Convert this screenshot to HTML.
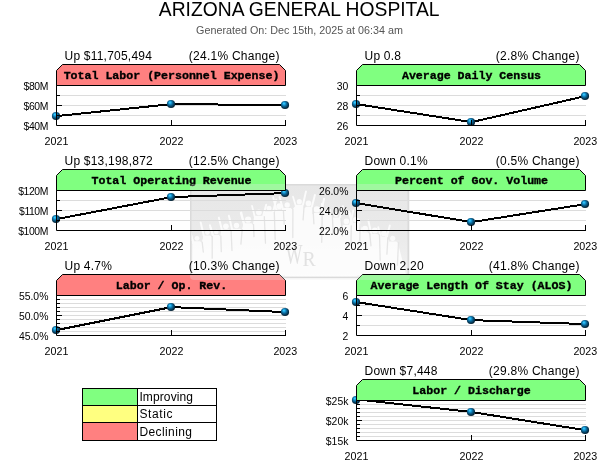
<!DOCTYPE html>
<html><head><meta charset="utf-8"><title>ARIZONA GENERAL HOSPITAL</title>
<style>
html,body{margin:0;padding:0;background:#fff;}
svg{display:block}
text{font-family:"Liberation Sans",Arial,sans-serif;fill:#000}
.t{font-size:19.3px;text-anchor:middle}
.s{font-size:10.75px;text-anchor:middle;fill:#555}
.l{font-size:12px;letter-spacing:0.22px}
.r{font-size:12px;text-anchor:end;letter-spacing:0.25px}
.h{font-family:"Liberation Mono","Courier New",monospace;font-weight:bold;font-size:11.6px;text-anchor:middle;stroke:#000;stroke-width:0.35px}
.y{font-size:10.4px;text-anchor:end}
.x{font-size:10.7px;text-anchor:middle}
.g{font-size:12px}
</style></head><body>
<svg width="600" height="465" viewBox="0 0 600 465">
<defs>
<radialGradient id="ball" cx="0.44" cy="0.42" r="0.62" fx="0.36" fy="0.3">
<stop offset="0" stop-color="#48dcff"/><stop offset="0.12" stop-color="#2cc0f4"/><stop offset="0.3" stop-color="#1792d0"/><stop offset="0.5" stop-color="#0b6492"/><stop offset="0.78" stop-color="#053450"/><stop offset="1" stop-color="#01141f"/>
</radialGradient>
</defs>
<rect width="600" height="465" fill="#fff"/>
<g id="wm"><defs><linearGradient id="wg" x1="0" y1="0" x2="0" y2="1"><stop offset="0" stop-color="#e7e7e7"/><stop offset="0.6" stop-color="#ebebeb"/><stop offset="1" stop-color="#f2f2f2"/></linearGradient><filter id="wb" x="-5%" y="-5%" width="110%" height="110%"><feGaussianBlur stdDeviation="0.45"/></filter><clipPath id="wc"><rect x="191.5" y="185.5" width="216" height="91" rx="3"/></clipPath><clipPath id="hc"><rect x="57" y="170" width="228" height="20"/><rect x="357" y="170" width="228" height="20"/><rect x="57" y="275" width="228" height="20"/><rect x="357" y="275" width="228" height="20"/></clipPath></defs>
<rect x="190" y="184" width="220" height="95.5" rx="5" fill="#f5f5f5"/><rect x="190.75" y="184.75" width="217.5" height="92.5" rx="4" fill="url(#wg)" stroke="#dadada" stroke-width="1.5"/>
<g clip-path="url(#wc)" fill="#fff" stroke="#fff" stroke-linecap="round" opacity="0.8" filter="url(#wb)">
<circle cx="197.0" cy="238.3" r="2.4" stroke="none"/>
<path d="M193.4 243.2L189.9 231.0" stroke-width="2" fill="none"/>
<path d="M193.4 243.2L190.4 232.3" stroke-width="1.8" fill="none"/>
<circle cx="207.4" cy="232.5" r="2.4" stroke="none"/>
<path d="M204.2 237.4L200.7 222.4" stroke-width="2" fill="none"/>
<circle cx="216.3" cy="232.0" r="2.3" stroke="none"/>
<path d="M213.4 236.9L209.9 225.2" stroke-width="2" fill="none"/>
<path d="M213.4 236.9L210.4 227.3" stroke-width="1.8" fill="none"/>
<circle cx="225.9" cy="226.2" r="2.8" stroke="none"/>
<path d="M222.3 231.6L218.8 217.6" stroke-width="2" fill="none"/>
<circle cx="236.5" cy="225.5" r="2.7" stroke="none"/>
<path d="M232.4 230.7L228.9 215.8" stroke-width="2" fill="none"/>
<circle cx="248.1" cy="219.7" r="3.1" stroke="none"/>
<path d="M244.3 225.3L240.8 213.0" stroke-width="2" fill="none"/>
<path d="M244.3 225.3L241.3 212.3" stroke-width="1.8" fill="none"/>
<circle cx="258.9" cy="212.3" r="2.9" stroke="none"/>
<path d="M262.7 217.7L266.2 204.7" stroke-width="2" fill="none"/>
<path d="M255.0 217.7L252.0 205.9" stroke-width="1.8" fill="none"/>
<circle cx="269.0" cy="208.2" r="2.5" stroke="none"/>
<path d="M272.7 213.3L276.2 199.4" stroke-width="2" fill="none"/>
<circle cx="279.3" cy="206.2" r="2.9" stroke="none"/>
<path d="M276.7 211.6L273.2 197.3" stroke-width="2" fill="none"/>
<circle cx="287.2" cy="204.9" r="2.7" stroke="none"/>
<path d="M283.1 210.1L279.6 197.0" stroke-width="2" fill="none"/>
<circle cx="299.3" cy="201.7" r="2.6" stroke="none"/>
<path d="M302.5 206.8L306.0 191.4" stroke-width="2" fill="none"/>
<path d="M296.0 206.8L293.0 196.7" stroke-width="1.8" fill="none"/>
<circle cx="308.5" cy="203.4" r="2.8" stroke="none"/>
<path d="M311.4 208.8L314.9 194.9" stroke-width="2" fill="none"/>
<circle cx="316.9" cy="209.4" r="3.2" stroke="none"/>
<path d="M320.6 215.0L324.1 198.7" stroke-width="2" fill="none"/>
<circle cx="328.0" cy="210.5" r="2.7" stroke="none"/>
<path d="M325.3 215.7L321.8 203.9" stroke-width="2" fill="none"/>
<circle cx="335.9" cy="214.7" r="2.4" stroke="none"/>
<path d="M339.4 219.5L342.9 206.2" stroke-width="2" fill="none"/>
<path d="M332.4 219.5L329.4 209.6" stroke-width="1.8" fill="none"/>
<circle cx="346.4" cy="221.4" r="2.8" stroke="none"/>
<path d="M349.7 226.8L353.2 210.6" stroke-width="2" fill="none"/>
<circle cx="355.5" cy="219.7" r="2.6" stroke="none"/>
<path d="M352.5 224.8L349.0 211.5" stroke-width="2" fill="none"/>
<path d="M352.5 224.8L349.5 212.3" stroke-width="1.8" fill="none"/>
<circle cx="365.0" cy="228.8" r="3.0" stroke="none"/>
<path d="M362.0 234.3L358.5 219.3" stroke-width="2" fill="none"/>
<path d="M362.0 234.3L359.0 222.7" stroke-width="1.8" fill="none"/>
<circle cx="374.9" cy="230.4" r="3.0" stroke="none"/>
<path d="M371.8 235.9L368.3 220.4" stroke-width="2" fill="none"/>
<circle cx="383.7" cy="233.5" r="2.6" stroke="none"/>
<path d="M386.3 238.6L389.8 225.5" stroke-width="2" fill="none"/>
<path d="M381.2 238.6L378.2 227.1" stroke-width="1.8" fill="none"/>
<circle cx="392.7" cy="238.3" r="2.6" stroke="none"/>
<path d="M388.5 243.4L385.0 231.6" stroke-width="2" fill="none"/>
<path d="M388.5 243.4L385.5 233.1" stroke-width="1.8" fill="none"/>
<polygon points="192,282 192.4,242.7 193.9,241.2 200.1,241.2 201.6,242.7 203.2,236.9 204.7,235.4 210.1,235.4 211.6,236.9 212.4,236.4 213.9,234.9 218.7,234.9 220.2,236.4 221.3,231.1 222.8,229.6 229.0,229.6 230.5,231.1 231.4,230.2 232.9,228.7 240.1,228.7 241.6,230.2 243.3,224.8 244.8,223.3 251.4,223.3 252.9,224.8 254.0,217.2 255.5,215.7 262.2,215.7 263.7,217.2 264.3,212.8 265.8,211.3 272.2,211.3 273.7,212.8 275.7,211.1 277.2,209.6 281.3,209.6 282.8,211.1 282.1,209.6 283.6,208.1 290.8,208.1 292.3,209.6 295.0,206.3 296.5,204.8 302.0,204.8 303.5,206.3 304.5,208.3 306.0,206.8 310.9,206.8 312.4,208.3 312.3,214.5 313.8,213.0 320.1,213.0 321.6,214.5 324.3,215.2 325.8,213.7 330.2,213.7 331.7,215.2 331.4,219.0 332.9,217.5 338.9,217.5 340.4,219.0 342.1,226.3 343.6,224.8 349.2,224.8 350.7,226.3 351.5,224.3 353.0,222.8 358.0,222.8 359.5,224.3 361.0,233.8 362.5,232.3 367.6,232.3 369.1,233.8 370.8,235.4 372.3,233.9 377.4,233.9 378.9,235.4 380.2,238.1 381.7,236.6 385.8,236.6 387.3,238.1 387.5,242.9 389.0,241.4 396.4,241.4 397.9,242.9 408,282" stroke="none"/>
<path d="M202.2 242.2L203.3 252.0" stroke="#e4e4e4" stroke-width="1.3" fill="none"/>
<path d="M212.2 236.4L212.2 258.2" stroke="#e4e4e4" stroke-width="1.3" fill="none"/>
<path d="M220.8 235.9L221.3 251.7" stroke="#e4e4e4" stroke-width="1.3" fill="none"/>
<path d="M231.1 230.6L232.0 250.5" stroke="#e4e4e4" stroke-width="1.3" fill="none"/>
<path d="M242.2 229.7L240.9 244.1" stroke="#e4e4e4" stroke-width="1.3" fill="none"/>
<path d="M253.5 224.3L254.0 236.6" stroke="#e4e4e4" stroke-width="1.3" fill="none"/>
<path d="M264.3 216.7L265.5 243.2" stroke="#e4e4e4" stroke-width="1.3" fill="none"/>
<path d="M274.3 212.3L275.2 239.3" stroke="#e4e4e4" stroke-width="1.3" fill="none"/>
<path d="M283.4 210.6L284.2 224.4" stroke="#e4e4e4" stroke-width="1.3" fill="none"/>
<path d="M292.9 209.1L292.8 237.5" stroke="#e4e4e4" stroke-width="1.3" fill="none"/>
<path d="M304.1 205.8L303.1 219.9" stroke="#e4e4e4" stroke-width="1.3" fill="none"/>
<path d="M313.0 207.8L313.9 223.8" stroke="#e4e4e4" stroke-width="1.3" fill="none"/>
<path d="M322.2 214.0L321.7 242.3" stroke="#e4e4e4" stroke-width="1.3" fill="none"/>
<path d="M332.3 214.7L333.2 233.4" stroke="#e4e4e4" stroke-width="1.3" fill="none"/>
<path d="M341.0 218.5L342.4 235.8" stroke="#e4e4e4" stroke-width="1.3" fill="none"/>
<path d="M351.3 225.8L351.0 245.4" stroke="#e4e4e4" stroke-width="1.3" fill="none"/>
<path d="M360.1 223.8L359.8 240.8" stroke="#e4e4e4" stroke-width="1.3" fill="none"/>
<path d="M369.7 233.3L371.0 245.9" stroke="#e4e4e4" stroke-width="1.3" fill="none"/>
<path d="M379.5 234.9L380.2 260.2" stroke="#e4e4e4" stroke-width="1.3" fill="none"/>
<path d="M387.9 237.6L386.9 254.2" stroke="#e4e4e4" stroke-width="1.3" fill="none"/>
<path d="M398.5 242.4L397.4 265.2" stroke="#e4e4e4" stroke-width="1.3" fill="none"/>
</g>
<text transform="translate(285.5,264) scale(0.62,1)" style="font-family:'Liberation Serif',serif;font-size:29px;fill:#e2e2e2">W</text><text transform="translate(302.5,266) scale(0.9,1)" style="font-family:'Liberation Serif',serif;font-size:22px;fill:#e2e2e2">R</text>
</g>
<text class="t" x="299.2" y="16">ARIZONA GENERAL HOSPITAL</text>
<text class="s" x="299.5" y="33.7">Generated On: Dec 15th, 2025 at 06:34 am</text>
<g>
<text class="l" x="64.5" y="59.5">Up $11,705,494</text><text class="r" x="279.7" y="59.5">(24.1% Change)</text>
<path d="M57 95.5H286M57 105.5H286M57 115.5H286" stroke="#dcdcdc" stroke-width="1" fill="none"/>
<text class="y" x="48.0" y="89.8" style="letter-spacing:-0.4px">$80M</text><text class="y" x="48.0" y="109.8" style="letter-spacing:-0.4px">$60M</text><text class="y" x="48.0" y="129.8" style="letter-spacing:-0.4px">$40M</text>
<text class="x" x="56.5" y="144.5">2021</text><text class="x" x="171.5" y="144.5">2022</text><text class="x" x="285.3" y="144.5">2023</text>
<polyline points="56.5,116.1 171.5,104.1 285.5,105.1" fill="none" stroke="#000" stroke-width="2" shape-rendering="crispEdges"/>
<circle cx="56" cy="116" r="4.1" fill="url(#ball)"/><circle cx="171" cy="104" r="4.1" fill="url(#ball)"/><circle cx="285" cy="105" r="4.1" fill="url(#ball)"/>
<path d="M57 95.5h3M57 105.5h5M57 115.5h3M171.5 125v-5M285.5 125v-5" stroke="#000" stroke-width="1" fill="none"/>
<path d="M56.5 85V125.5H286" stroke="#000" stroke-width="1" fill="none"/>
<path d="M56.5 85.5V70.5L62.5 64.5H279.5L285.5 70.5V85.5Z" fill="#ff8080" stroke="#000" stroke-width="1"/>
<text class="h" x="171.5" y="79.4">Total Labor (Personnel Expense)</text>

</g>
<g>
<text class="l" x="364.5" y="59.5">Up 0.8</text><text class="r" x="579.7" y="59.5">(2.8% Change)</text>
<path d="M357 95.5H586M357 105.5H586M357 115.5H586" stroke="#dcdcdc" stroke-width="1" fill="none"/>
<text class="y" x="348.4" y="89.8">30</text><text class="y" x="348.4" y="109.8">28</text><text class="y" x="348.4" y="129.8">26</text>
<text class="x" x="356.5" y="144.5">2021</text><text class="x" x="471.5" y="144.5">2022</text><text class="x" x="585.3" y="144.5">2023</text>
<polyline points="356.5,104.1 471.5,122.1 585.5,96.1" fill="none" stroke="#000" stroke-width="2" shape-rendering="crispEdges"/>
<circle cx="356" cy="104" r="4.1" fill="url(#ball)"/><circle cx="471" cy="122" r="4.1" fill="url(#ball)"/><circle cx="585" cy="96" r="4.1" fill="url(#ball)"/>
<path d="M357 95.5h3M357 105.5h5M357 115.5h3M471.5 125v-5M585.5 125v-5" stroke="#000" stroke-width="1" fill="none"/>
<path d="M356.5 85V125.5H586" stroke="#000" stroke-width="1" fill="none"/>
<path d="M356.5 85.5V70.5L362.5 64.5H579.5L585.5 70.5V85.5Z" fill="#80ff80" stroke="#000" stroke-width="1"/>
<text class="h" x="471.5" y="79.4">Average Daily Census</text>

</g>
<g>
<text class="l" x="64.5" y="164.5">Up $13,198,872</text><text class="r" x="279.7" y="164.5">(12.5% Change)</text>
<path d="M57 200.5H286M57 210.5H286M57 220.5H286" stroke="#dcdcdc" stroke-width="1" fill="none"/>
<text class="y" x="48.0" y="194.8" style="letter-spacing:-0.4px">$120M</text><text class="y" x="48.0" y="214.8" style="letter-spacing:-0.4px">$110M</text><text class="y" x="48.0" y="234.8" style="letter-spacing:-0.4px">$100M</text>
<text class="x" x="56.5" y="249.5">2021</text><text class="x" x="171.5" y="249.5">2022</text><text class="x" x="285.3" y="249.5">2023</text>
<polyline points="56.5,219.1 171.5,197.1 285.5,193.1" fill="none" stroke="#000" stroke-width="2" shape-rendering="crispEdges"/>
<circle cx="56" cy="219" r="4.1" fill="url(#ball)"/><circle cx="171" cy="197" r="4.1" fill="url(#ball)"/><circle cx="285" cy="193" r="4.1" fill="url(#ball)"/>
<path d="M57 200.5h3M57 210.5h5M57 220.5h3M171.5 230v-5M285.5 230v-5" stroke="#000" stroke-width="1" fill="none"/>
<path d="M56.5 190V230.5H286" stroke="#000" stroke-width="1" fill="none"/>
<path d="M56.5 190.5V175.5L62.5 169.5H279.5L285.5 175.5V190.5Z" fill="#80ff80" stroke="#000" stroke-width="1"/>
<text class="h" x="171.5" y="184.4">Total Operating Revenue</text>

</g>
<g>
<text class="l" x="364.5" y="164.5">Down 0.1%</text><text class="r" x="579.7" y="164.5">(0.5% Change)</text>
<path d="M357 200.5H586M357 210.5H586M357 220.5H586" stroke="#dcdcdc" stroke-width="1" fill="none"/>
<text class="y" x="348.4" y="194.8">26.0%</text><text class="y" x="348.4" y="214.8">24.0%</text><text class="y" x="348.4" y="234.8">22.0%</text>
<text class="x" x="356.5" y="249.5">2021</text><text class="x" x="471.5" y="249.5">2022</text><text class="x" x="585.3" y="249.5">2023</text>
<polyline points="356.5,203.1 471.5,222.1 585.5,204.1" fill="none" stroke="#000" stroke-width="2" shape-rendering="crispEdges"/>
<circle cx="356" cy="203" r="4.1" fill="url(#ball)"/><circle cx="471" cy="222" r="4.1" fill="url(#ball)"/><circle cx="585" cy="204" r="4.1" fill="url(#ball)"/>
<path d="M357 200.5h3M357 210.5h5M357 220.5h3M471.5 230v-5M585.5 230v-5" stroke="#000" stroke-width="1" fill="none"/>
<path d="M356.5 190V230.5H586" stroke="#000" stroke-width="1" fill="none"/>
<path d="M356.5 190.5V175.5L362.5 169.5H579.5L585.5 175.5V190.5Z" fill="#80ff80" stroke="#000" stroke-width="1"/>
<text class="h" x="471.5" y="184.4">Percent of Gov. Volume</text>

</g>
<g>
<text class="l" x="64.5" y="269.5">Up 4.7%</text><text class="r" x="279.7" y="269.5">(10.3% Change)</text>
<path d="M57 299.5H286M57 303.5H286M57 307.5H286M57 311.5H286M57 315.5H286M57 319.5H286M57 323.5H286M57 327.5H286M57 331.5H286" stroke="#dcdcdc" stroke-width="1" fill="none"/>
<text class="y" x="48.4" y="299.8">55.0%</text><text class="y" x="48.4" y="319.8">50.0%</text><text class="y" x="48.4" y="339.8">45.0%</text>
<text class="x" x="56.5" y="354.5">2021</text><text class="x" x="171.5" y="354.5">2022</text><text class="x" x="285.3" y="354.5">2023</text>
<polyline points="56.5,330.1 171.5,307.1 285.5,312.1" fill="none" stroke="#000" stroke-width="2" shape-rendering="crispEdges"/>
<circle cx="56" cy="330" r="4.1" fill="url(#ball)"/><circle cx="171" cy="307" r="4.1" fill="url(#ball)"/><circle cx="285" cy="312" r="4.1" fill="url(#ball)"/>
<path d="M57 299.5h3M57 303.5h3M57 307.5h3M57 311.5h3M57 315.5h5M57 319.5h3M57 323.5h3M57 327.5h3M57 331.5h3M171.5 335v-5M285.5 335v-5" stroke="#000" stroke-width="1" fill="none"/>
<path d="M56.5 295V335.5H286" stroke="#000" stroke-width="1" fill="none"/>
<path d="M56.5 295.5V280.5L62.5 274.5H279.5L285.5 280.5V295.5Z" fill="#ff8080" stroke="#000" stroke-width="1"/>
<text class="h" x="171.5" y="289.4">Labor / Op. Rev.</text>

</g>
<g>
<text class="l" x="364.5" y="269.5">Down 2.20</text><text class="r" x="579.7" y="269.5">(41.8% Change)</text>
<path d="M357 305.5H586M357 315.5H586M357 325.5H586" stroke="#dcdcdc" stroke-width="1" fill="none"/>
<text class="y" x="348.4" y="299.8">6</text><text class="y" x="348.4" y="319.8">4</text><text class="y" x="348.4" y="339.8">2</text>
<text class="x" x="356.5" y="354.5">2021</text><text class="x" x="471.5" y="354.5">2022</text><text class="x" x="585.3" y="354.5">2023</text>
<polyline points="356.5,302.1 471.5,320.1 585.5,324.1" fill="none" stroke="#000" stroke-width="2" shape-rendering="crispEdges"/>
<circle cx="356" cy="302" r="4.1" fill="url(#ball)"/><circle cx="471" cy="320" r="4.1" fill="url(#ball)"/><circle cx="585" cy="324" r="4.1" fill="url(#ball)"/>
<path d="M357 305.5h3M357 315.5h5M357 325.5h3M471.5 335v-5M585.5 335v-5" stroke="#000" stroke-width="1" fill="none"/>
<path d="M356.5 295V335.5H586" stroke="#000" stroke-width="1" fill="none"/>
<path d="M356.5 295.5V280.5L362.5 274.5H579.5L585.5 280.5V295.5Z" fill="#80ff80" stroke="#000" stroke-width="1"/>
<text class="h" x="471.5" y="289.4">Average Length Of Stay (ALOS)</text>

</g>
<g>
<text class="l" x="364.5" y="374.5">Down $7,448</text><text class="r" x="579.7" y="374.5">(29.8% Change)</text>
<path d="M357 404.5H586M357 408.5H586M357 412.5H586M357 416.5H586M357 420.5H586M357 424.5H586M357 428.5H586M357 432.5H586M357 436.5H586" stroke="#dcdcdc" stroke-width="1" fill="none"/>
<text class="y" x="348.4" y="404.8">$25k</text><text class="y" x="348.4" y="424.8">$20k</text><text class="y" x="348.4" y="444.8">$15k</text>
<text class="x" x="356.5" y="459.5">2021</text><text class="x" x="471.5" y="459.5">2022</text><text class="x" x="585.3" y="459.5">2023</text>
<polyline points="356.5,399.4 471.5,412.0 585.5,430.2" fill="none" stroke="#000" stroke-width="2" shape-rendering="crispEdges"/>
<circle cx="356" cy="400" r="4.1" fill="url(#ball)"/><circle cx="471" cy="412" r="4.1" fill="url(#ball)"/><circle cx="585" cy="430" r="4.1" fill="url(#ball)"/>
<path d="M357 404.5h3M357 408.5h3M357 412.5h3M357 416.5h3M357 420.5h5M357 424.5h3M357 428.5h3M357 432.5h3M357 436.5h3M471.5 440v-5M585.5 440v-5" stroke="#000" stroke-width="1" fill="none"/>
<path d="M356.5 400V440.5H586" stroke="#000" stroke-width="1" fill="none"/>
<path d="M356.5 400.5V385.5L362.5 379.5H579.5L585.5 385.5V400.5Z" fill="#80ff80" stroke="#000" stroke-width="1"/>
<text class="h" x="471.5" y="394.4">Labor / Discharge</text>

</g>
<g clip-path="url(#hc)" opacity="0.3"><rect x="190" y="184" width="220" height="96" rx="4" fill="#e8e8e8"/></g>
<g><rect x="82.5" y="388.5" width="55" height="17" fill="#80ff80" stroke="#000"/><rect x="137.5" y="388.5" width="79" height="17" fill="#fff" stroke="#000"/><text class="g" x="139.4" y="400.9" style="letter-spacing:0.12px">Improving</text>
<rect x="82.5" y="405.5" width="55" height="17" fill="#ffff80" stroke="#000"/><rect x="137.5" y="405.5" width="79" height="17" fill="#fff" stroke="#000"/><text class="g" x="139.4" y="418.4" style="letter-spacing:0.6px">Static</text>
<rect x="82.5" y="422.5" width="55" height="18" fill="#ff8080" stroke="#000"/><rect x="137.5" y="422.5" width="79" height="18" fill="#fff" stroke="#000"/><text class="g" x="139.4" y="435.9" style="letter-spacing:0.4px">Declining</text>
</g>
</svg>
</body></html>
